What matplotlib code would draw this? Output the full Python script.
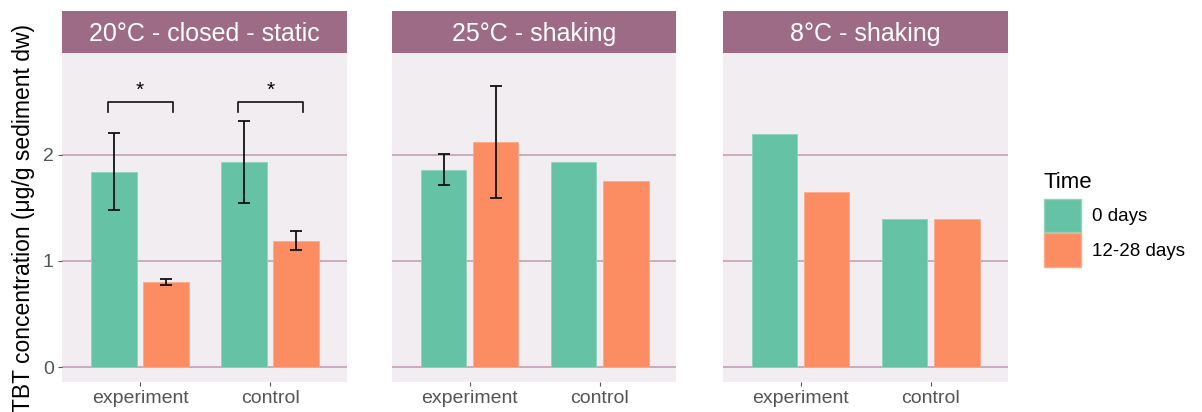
import numpy as np
import matplotlib.pyplot as plt
from matplotlib.patches import Patch

plt.rcParams['font.family'] = ['Liberation Sans', 'DejaVu Sans']

panels = ["20°C - closed - static", "25°C - shaking", "8°C - shaking"]
treatments = ["experiment", "control"]
times = ["0 days", "12-28 days"]

# mean TBT per panel, [experiment, control]
day0 = [[1.84, 1.93], [1.86, 1.93], [2.19, 1.39]]
day_late = [[0.80, 1.19], [2.12, 1.75], [1.65, 1.39]]
# standard deviations (nan = single sample)
day0_sd = [[0.365, 0.385], [0.15, np.nan], [np.nan, np.nan]]
day_late_sd = [[0.03, 0.09], [0.53, np.nan], [np.nan, np.nan]]
# significance brackets: (panel, treatment index, label)
signif = [(0, 0, "*"), (0, 1, "*")]
bracket_y = 2.5

green = "#66C2A5"
orange = "#FC8D62"
strip_col = "#9E6B87"
panel_bg = "#F2EDF1"
grid_col = "#C4A6BA"
tick_col = "#555555"

W, H = 1202, 412
fig = plt.figure(figsize=(W / 100, H / 100), dpi=100)

lefts = [62, 391.5, 722.5]
pw = 285
p_top, p_bot = 53, 382
s_top = 11

x = np.arange(1, len(treatments) + 1)
bw = 0.35
off = 0.2

for i, name in enumerate(panels):
    ax = fig.add_axes([lefts[i] / W, 1 - p_bot / H, pw / W, (p_bot - p_top) / H])
    ax.set_facecolor(panel_bg)
    for s in ax.spines.values():
        s.set_visible(False)
    ax.set_xlim(0.4, 2.59)
    ax.set_ylim(-0.14, 2.957)
    ax.set_yticks([0, 1, 2])
    ax.grid(axis='y', color=grid_col, linewidth=1.3)
    ax.set_axisbelow(True)

    ax.bar(x - off, day0[i], bw, color=green, edgecolor="#8FD3BC", linewidth=0.6)
    ax.bar(x + off, day_late[i], bw, color=orange, edgecolor="#FDAA8A", linewidth=0.6)
    ax.errorbar(x - off, day0[i], yerr=day0_sd[i], fmt='none', ecolor='#111111',
                elinewidth=1.3, capsize=4.5, capthick=1.3)
    ax.errorbar(x + off, day_late[i], yerr=day_late_sd[i], fmt='none', ecolor='#111111',
                elinewidth=1.3, capsize=4.5, capthick=1.3)

    for p, t, lab in signif:
        if p != i:
            continue
        xc = x[t]
        ax.plot([xc - 0.25, xc - 0.25, xc + 0.25, xc + 0.25],
                [bracket_y - 0.1, bracket_y, bracket_y, bracket_y - 0.1],
                color='#111111', linewidth=1.2)
        ax.text(xc, bracket_y + 0.02, lab, ha='center', va='bottom', fontsize=15)

    ax.set_xticks(x)
    ax.set_xticklabels(treatments)
    ax.tick_params(axis='x', length=3, color=tick_col, labelcolor=tick_col,
                   labelsize=14, pad=3)
    if i == 0:
        ax.tick_params(axis='y', length=3, color=tick_col, labelcolor=tick_col,
                       labelsize=14, pad=3)
    else:
        ax.tick_params(axis='y', length=0, labelleft=False)

    # facet strip
    sax = fig.add_axes([lefts[i] / W, 1 - p_top / H, pw / W, (p_top - s_top) / H])
    sax.set_facecolor(strip_col)
    sax.set_xticks([])
    sax.set_yticks([])
    for s in sax.spines.values():
        s.set_visible(False)
    sax.text(0.5, 0.45, name, ha='center', va='center', color='white',
             fontsize=18, transform=sax.transAxes)

fig.text(24 / W, 1 - 217.5 / H, "TBT concentration (μg/g sediment dw)",
         rotation=90, ha='center', va='center', fontsize=16.5, color='black')

handles = [Patch(facecolor=green, edgecolor="#8FD3BC"),
           Patch(facecolor=orange, edgecolor="#FDAA8A")]
leg = fig.legend(handles, times, title="Time", loc='upper left',
                 bbox_to_anchor=(1029 / W, 1 - 157 / H), frameon=False,
                 fontsize=13.5, title_fontsize=16, handlelength=1.95,
                 handleheight=2.4, labelspacing=0.05, handletextpad=0.6,
                 borderpad=0.3)
leg._legend_box.align = "left"
leg._legend_box.sep = 4

fig.savefig("out.png", dpi=100)
